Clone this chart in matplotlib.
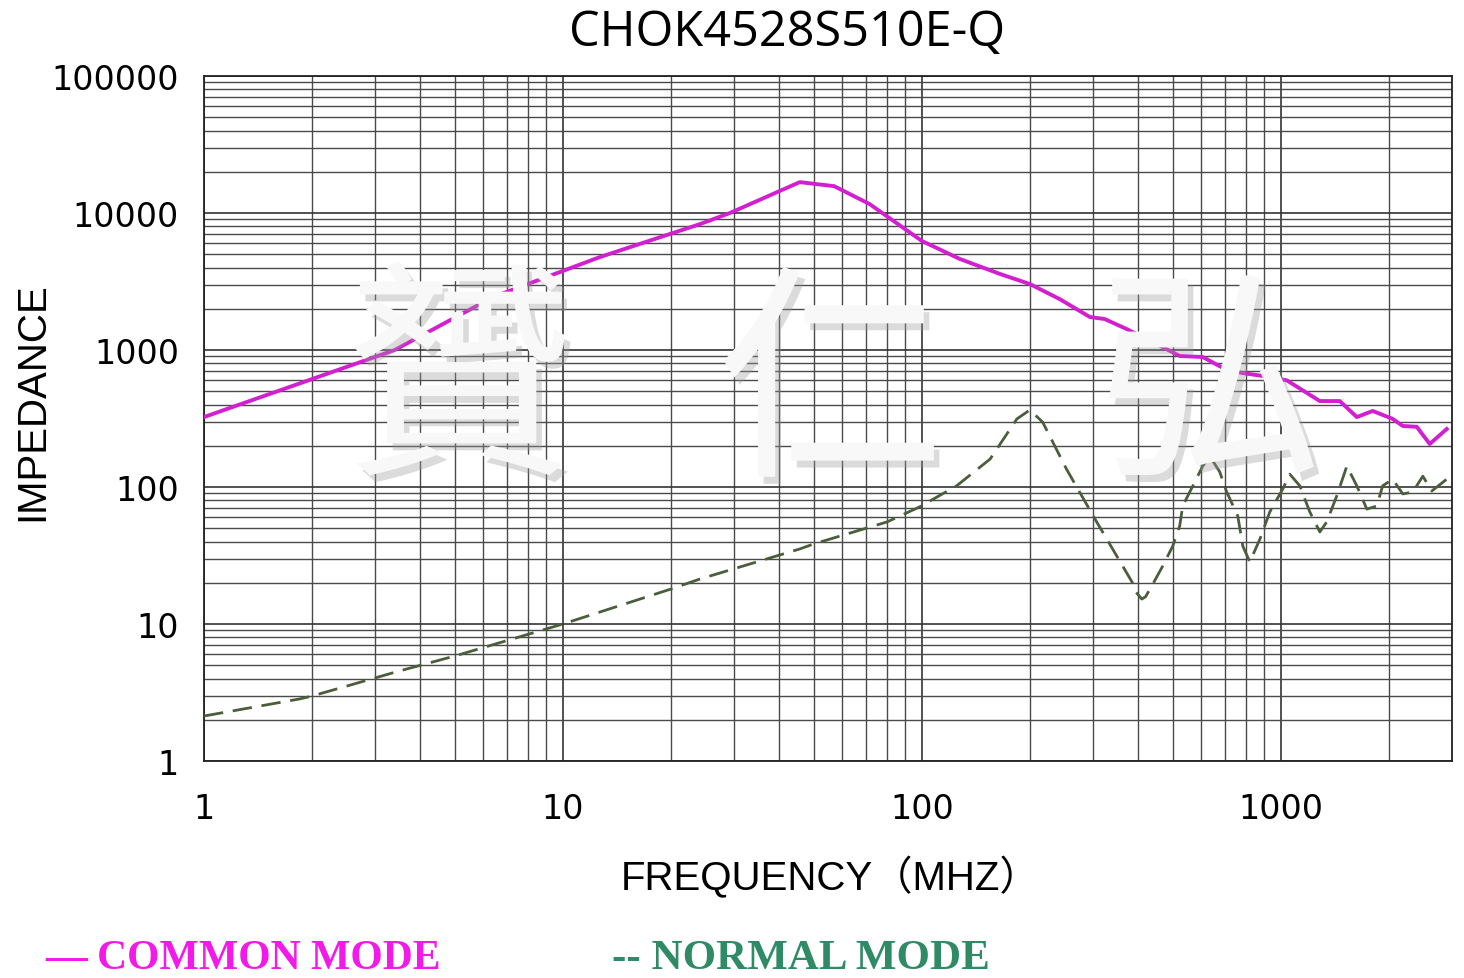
import matplotlib
matplotlib.use('Agg')
import matplotlib.pyplot as plt
import matplotlib.patheffects as pe
from matplotlib.ticker import LogLocator, NullFormatter, FixedLocator

# common mode impedance (MHz, ohm)
cm_freq = [1, 3.4, 6.4, 12.7, 24.1, 29.2, 45.7, 57, 71.6, 100, 127.6, 165, 200, 242, 294, 323,
           372, 451, 523, 606, 690, 780, 914, 1040, 1285, 1460, 1629, 1804, 2051, 2187, 2393,
           2601, 2900]
cm_imp = [324, 1000, 2440, 4775, 8300, 10000, 16800, 15700, 11600, 6250, 4620, 3590, 3030, 2355,
          1740, 1683, 1423, 1106, 904, 889, 740, 680, 640, 600, 424, 424, 324, 359, 314, 279, 275,
          206, 265]

# normal mode impedance (MHz, ohm)
nm_freq = [1, 1.85, 2, 3.5, 5, 10, 20, 24.1, 45.7, 50, 80, 98.5, 125, 155, 184, 200, 217, 253,
           275, 307, 385, 395, 410, 420, 437, 469, 500, 523, 533, 569, 606, 634, 676, 707, 759,
           784, 820, 875, 932, 1013, 1060, 1130, 1205, 1285, 1343, 1432, 1528, 1629, 1737, 1851,
           1923, 2051, 2187, 2333, 2488, 2635, 2900]
nm_imp = [2.13, 2.84, 2.98, 4.54, 5.84, 10, 18.0, 21.3, 35.3, 38.4, 55.6, 71.5, 102, 160, 314,
          365, 298, 135, 92, 55.6, 20.3, 17.1, 15.2, 15.8, 18.9, 26.5, 37, 52, 72.6, 102, 142, 168,
          129, 92, 61.4, 37, 28.4, 41.7, 65.7, 96.7, 124, 102, 65.7, 47, 55.6, 86, 142, 102, 69,
          72.6, 102, 114, 89, 92, 120, 93.5, 114]

x_ticks = [1, 10, 100, 1000]
y_ticks = [1, 10, 100, 1000, 10000, 100000]

fig = plt.figure(figsize=(14.64, 9.79), dpi=100)
ax = fig.add_axes([204 / 1464, 1 - 762 / 979, 1248 / 1464, 685 / 979])

ax.plot(cm_freq, cm_imp, color='#D21FCF', lw=2.8, zorder=3, solid_joinstyle='round')
ax.plot(nm_freq, nm_imp, color='#4B5E3C', lw=2.0, ls=(0, (7, 3.5)), zorder=3,
        dash_joinstyle='round')

ax.set_xscale('log')
ax.set_yscale('log')
ax.set_xlim(1, 3000)
ax.set_ylim(1, 100000)

ax.xaxis.set_major_locator(FixedLocator(x_ticks))
ax.yaxis.set_major_locator(FixedLocator(y_ticks))
ax.xaxis.set_minor_locator(LogLocator(base=10, subs=range(2, 10), numticks=20))
ax.yaxis.set_minor_locator(LogLocator(base=10, subs=range(2, 10), numticks=20))
ax.xaxis.set_minor_formatter(NullFormatter())
ax.yaxis.set_minor_formatter(NullFormatter())
ax.set_xticklabels([str(v) for v in x_ticks])
ax.set_yticklabels([str(v) for v in y_ticks])
ax.tick_params(which='both', length=0)
ax.tick_params(axis='y', pad=18, labelsize=24)
ax.tick_params(axis='x', pad=22, labelsize=24)

ax.grid(which='major', color='#333333', lw=1.2)
ax.grid(which='minor', color='#4a4a4a', lw=1.0)
for s in ax.spines.values():
    s.set_color('#222222')
    s.set_linewidth(1.3)

fig.text(32 / 1464, 1 - 402 / 979, 'IMPEDANCE', ha='center', va='center', rotation=90,
         fontsize=29, family=['Liberation Sans', 'DejaVu Sans'])
fig.text(831 / 1464, 1 - 877 / 979, 'FREQUENCY（MHZ）', ha='center', va='center', fontsize=29,
         family=['Liberation Sans', 'Noto Sans CJK SC'])
fig.text(787 / 1464, 1 - 33 / 979, 'CHOK4528S510E-Q', ha='center', va='center', fontsize=35,
         family=['Open Sans', 'DejaVu Sans'])

# legend text at the bottom
fig.text(45 / 1464, 1 - 959 / 979, '— COMMON MODE', ha='left', va='center', fontsize=30,
         weight='bold', color='#F21AE8', family=['Liberation Serif'])
fig.text(612 / 1464, 1 - 959 / 979, '-- NORMAL MODE', ha='left', va='center', fontsize=31,
         weight='bold', color='#2E8B66', family=['Liberation Serif'])

# watermark
shadow = [pe.SimplePatchShadow(offset=(4, -5), shadow_rgbFace='#999999', alpha=0.35), pe.Normal()]
for ch, xp, yp in [('贇', 460, 392), ('仁', 830, 395), ('弘', 1210, 395)]:
    fig.text(xp / 1464, 1 - yp / 979, ch, ha='center', va='center', fontsize=165,
             color='#f8f8f8', family=['Noto Sans CJK TC'], path_effects=shadow, zorder=10)

fig.savefig('out.png', dpi=100)
